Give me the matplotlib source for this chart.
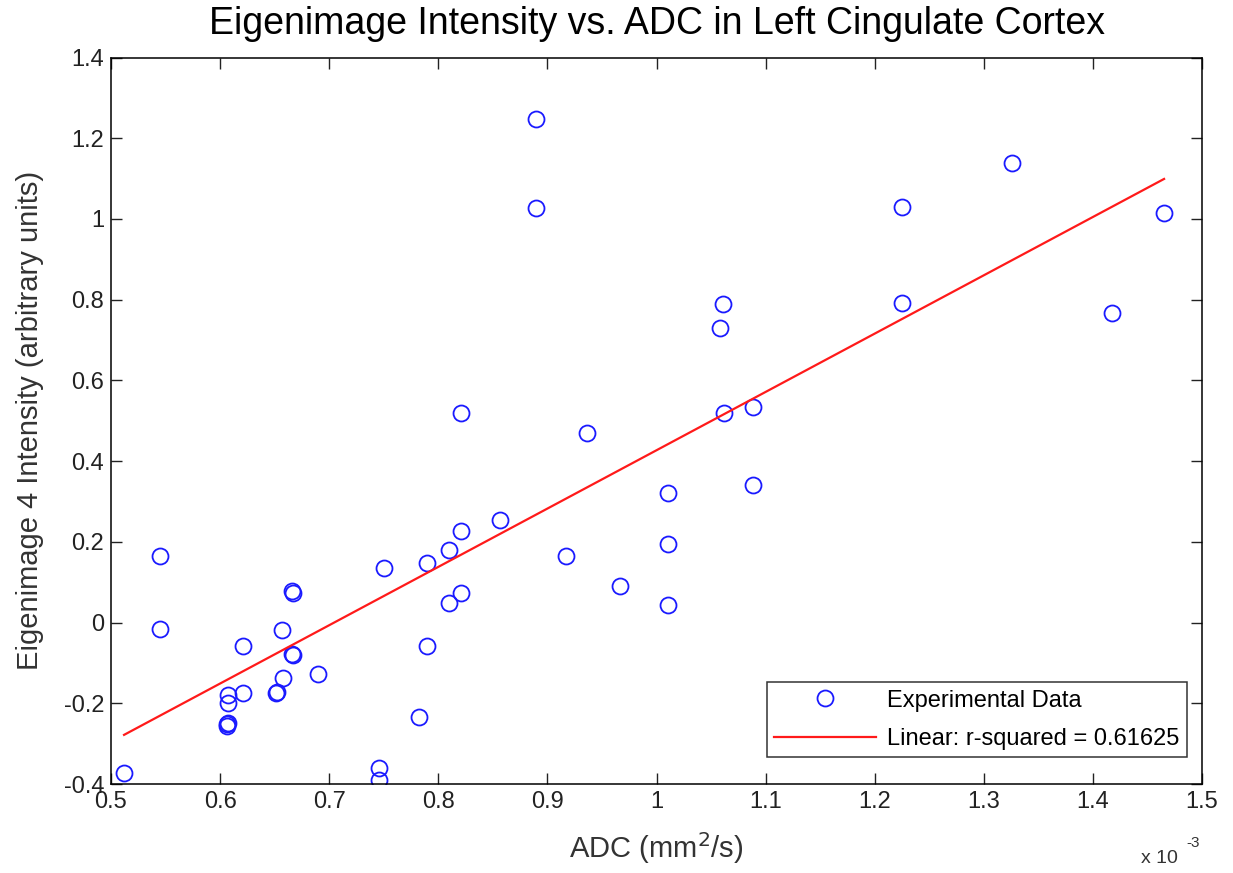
import numpy as np
import matplotlib
matplotlib.use("Agg")
import matplotlib.pyplot as plt
from matplotlib.ticker import FuncFormatter

# ---------------- data (ADC in units of 1e-3 mm^2/s) ----------------
adc = [0.512, 0.545, 0.545, 0.6066, 0.6075, 0.6075, 0.6066, 0.6070,
       0.6213, 0.6213, 0.6564, 0.6574, 0.6512, 0.6520, 0.6662, 0.6668,
       0.6662, 0.6668, 0.690, 0.750, 0.746, 0.746, 0.782, 0.790, 0.790,
       0.8098, 0.8098, 0.8205, 0.8205, 0.8205, 0.8566, 0.8896, 0.8896,
       0.9168, 0.9366, 0.9665, 1.0108, 1.0108, 1.0108, 1.0582, 1.0612,
       1.0619, 1.0887, 1.0887, 1.2247, 1.2247, 1.3261, 1.4172, 1.4652]
intensity = [-0.373, 0.165, -0.015, -0.251, -0.1795, -0.199, -0.255, -0.249,
             -0.058, -0.175, -0.0185, -0.138, -0.174, -0.171, 0.079, 0.074,
             -0.078, -0.081, -0.1275, 0.135, -0.360, -0.390, -0.234, 0.147,
             -0.058, 0.180, 0.049, 0.228, 0.074, 0.520, 0.254, 1.247, 1.026,
             0.165, 0.470, 0.0905, 0.322, 0.195, 0.0435, 0.729, 0.789,
             0.520, 0.535, 0.341, 1.030, 0.793, 1.139, 0.768, 1.0155]

# linear fit as shown in the figure (slope, intercept)
fit_slope = 1.445
fit_intercept = -1.018
rsq_label = "Linear: r-squared = 0.61625"
# --------------------------------------------------------------------

plt.rcParams['font.family'] = ['Liberation Sans', 'DejaVu Sans']
plt.rcParams['axes.unicode_minus'] = False

x = np.array(adc)
y = np.array(intensity)
xfit = np.array([x.min(), x.max()])
yfit = fit_slope * xfit + fit_intercept

fig = plt.figure(figsize=(12.33, 8.73), dpi=100)
ax = fig.add_axes([0.0900, 0.1019, 0.8849, 0.8322])

ax.plot(x, y, 'o', ls='none', mfc='none', mec='#1a1aff', ms=11.5, mew=1.3,
        label="Experimental Data")
ax.plot(xfit, yfit, '-', color='#ff1a1a', lw=1.6, label=rsq_label)

ax.set_xlim(0.5, 1.5)
ax.set_ylim(-0.4, 1.4)
ax.set_xticks(np.arange(0.5, 1.51, 0.1))
ax.set_yticks(np.arange(-0.4, 1.41, 0.2))
fmt = FuncFormatter(lambda v, p: ("%g" % round(v, 2)))
ax.xaxis.set_major_formatter(fmt)
ax.yaxis.set_major_formatter(fmt)
ax.tick_params(direction='in', length=8, width=1, top=True, right=True,
               labelsize=17, colors='#222222', pad=5)
for s in ax.spines.values():
    s.set_linewidth(1.1)

ax.set_title("Eigenimage Intensity vs. ADC in Left Cingulate Cortex",
             fontsize=27, pad=17)
ax.set_xlabel("ADC (mm$^2$/s)", fontsize=21, color='#333333', labelpad=12)
ax.set_ylabel("Eigenimage 4 Intensity (arbitrary units)", fontsize=21,
              color='#333333', labelpad=14)
fig.text(0.925, 0.012, "x 10", fontsize=14, color='#333333')
fig.text(0.962, 0.030, "-3", fontsize=11, color='#333333')

leg = ax.legend(loc='lower right', fontsize=17, frameon=True, fancybox=False,
                edgecolor='black', handlelength=4.3, borderpad=0.3,
                labelspacing=0.7, handletextpad=0.5, borderaxespad=0,
                bbox_to_anchor=(0.986, 0.037))
leg.get_frame().set_linewidth(1.1)

fig.savefig("out.png", dpi=100)
